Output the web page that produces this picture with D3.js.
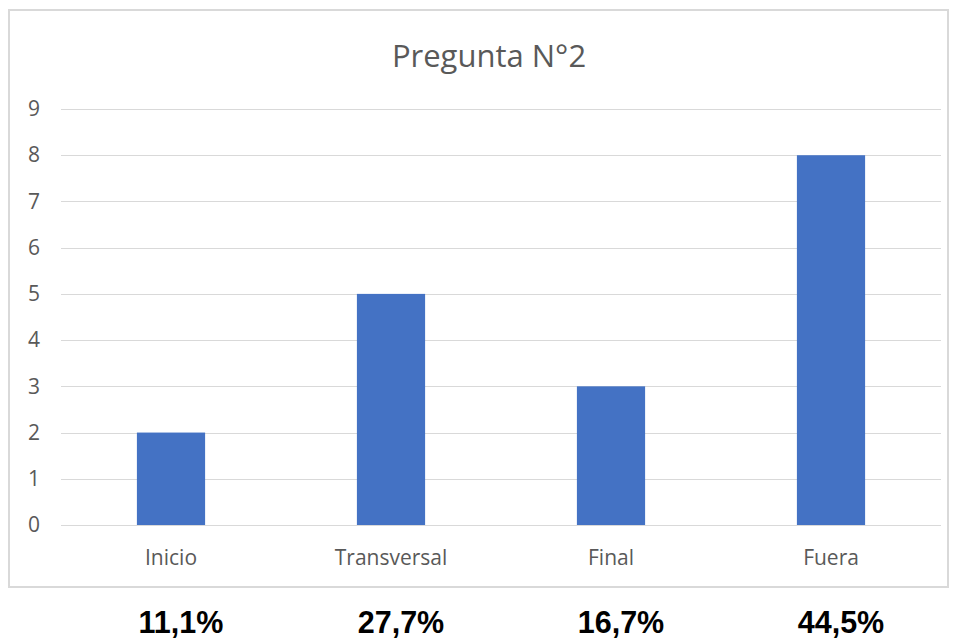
<!DOCTYPE html>
<html>
<head>
<meta charset="utf-8">
<script src="https://cdn.jsdelivr.net/npm/d3@7"></script>
<style>
  html, body { margin: 0; padding: 0; background: #fff; }
  svg { display: block; }
</style>
</head>
<body>
<svg id="chart" width="958" height="641"></svg>
<script>
// Question 2 responses by moment
const categories = ["Inicio", "Transversal", "Final", "Fuera"];
const values = [2, 5, 3, 8];
const percentLabels = ["11,1%", "27,7%", "16,7%", "44,5%"];
const yTicks = [0, 1, 2, 3, 4, 5, 6, 7, 8, 9];
const title = "Pregunta N°2";

const svg = d3.select("#chart");
const plot = { left: 61, right: 941, top: 109, bottom: 525 };
const labelFont = "'Open Sans', 'DejaVu Sans', sans-serif";

// chart frame
svg.append("rect")
  .attr("x", 9).attr("y", 10)
  .attr("width", 939).attr("height", 577)
  .attr("fill", "#fff")
  .attr("stroke", "#d9d9d9")
  .attr("stroke-width", 2);

const x = d3.scaleBand()
  .domain(categories)
  .range([plot.left, plot.right])
  .paddingInner(0.69)
  .paddingOuter(0.345);

const y = d3.scaleLinear()
  .domain([0, 9])
  .range([plot.bottom, plot.top]);

// gridlines
svg.append("g")
  .selectAll("line")
  .data(yTicks)
  .join("line")
  .attr("x1", plot.left).attr("x2", plot.right)
  .attr("y1", d => Math.round(y(d)) + 0.5)
  .attr("y2", d => Math.round(y(d)) + 0.5)
  .attr("stroke", "#d9d9d9")
  .attr("stroke-width", 1);

// y axis labels
const yAxis = d3.axisLeft(y).tickValues(yTicks).tickSize(0).tickPadding(0);
const gy = svg.append("g")
  .attr("transform", `translate(${plot.left - 21},0)`)
  .call(yAxis);
gy.select(".domain").remove();
gy.selectAll("text")
  .attr("fill", "#595959")
  .attr("font-family", labelFont)
  .attr("font-size", 21);

// bars
svg.append("g")
  .selectAll("rect")
  .data(values)
  .join("rect")
  .attr("x", (d, i) => x(categories[i]))
  .attr("y", d => y(d))
  .attr("width", x.bandwidth())
  .attr("height", d => y(0) - y(d))
  .attr("fill", "#4472c4");

// category labels
const xAxis = d3.axisBottom(x).tickSize(0).tickPadding(0);
const gx = svg.append("g")
  .attr("transform", `translate(0,${plot.bottom})`)
  .call(xAxis);
gx.select(".domain").remove();
gx.selectAll("text")
  .attr("dy", null)
  .attr("y", 40)
  .attr("fill", "#595959")
  .attr("font-family", labelFont)
  .attr("font-size", 21);

// title
svg.append("text")
  .attr("x", 489).attr("y", 67)
  .attr("text-anchor", "middle")
  .attr("fill", "#595959")
  .attr("font-family", labelFont)
  .attr("font-size", 31)
  .text(title);

// percentage labels below the frame
svg.append("g")
  .selectAll("text")
  .data(percentLabels)
  .join("text")
  .attr("x", (d, i) => x(categories[i]) + x.bandwidth() / 2 + 10)
  .attr("y", 633)
  .attr("text-anchor", "middle")
  .attr("fill", "#000")
  .attr("font-family", "'Liberation Sans', Arial, sans-serif")
  .attr("font-weight", "bold")
  .attr("font-size", 30.5)
  .text(d => d);
</script>
</body>
</html>
